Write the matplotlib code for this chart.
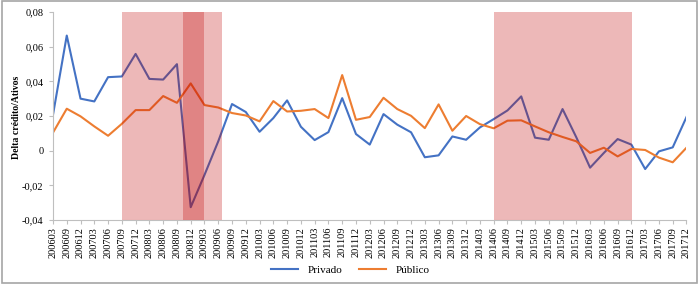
import matplotlib
matplotlib.use("Agg")
import matplotlib.pyplot as plt
from matplotlib.patches import Rectangle

labels = ["200603", "200609", "200612", "200703", "200706", "200709", "200712",
          "200803", "200806", "200809", "200812", "200903", "200906", "200909",
          "200912", "201003", "201006", "201009", "201012", "201103", "201106",
          "201109", "201112", "201203", "201206", "201209", "201212", "201303",
          "201306", "201309", "201312", "201403", "201406", "201409", "201412",
          "201503", "201506", "201509", "201512", "201603", "201606", "201609",
          "201612", "201703", "201706", "201709", "201712"]

privado = [0.0207, 0.0664, 0.0300, 0.0284, 0.0424, 0.0428, 0.0558, 0.0414,
           0.0410, 0.0499, -0.0326, -0.0140, 0.0054, 0.0269, 0.0223, 0.0109,
           0.0188, 0.0290, 0.0138, 0.0061, 0.0107, 0.0303, 0.0096, 0.0035,
           0.0211, 0.0150, 0.0106, -0.0038, -0.0027, 0.0082, 0.0063, 0.0134,
           0.0182, 0.0232, 0.0313, 0.0075, 0.0063, 0.0240, 0.0077, -0.0098,
           -0.0013, 0.0067, 0.0035, -0.0106, -0.0004, 0.0019, 0.0194]

publico = [0.0104, 0.0242, 0.0198, 0.0140, 0.0086, 0.0155, 0.0234, 0.0234,
           0.0315, 0.0276, 0.0388, 0.0263, 0.0249, 0.0217, 0.0203, 0.0169,
           0.0286, 0.0226, 0.0230, 0.0240, 0.0188, 0.0436, 0.0178, 0.0194,
           0.0305, 0.0240, 0.0201, 0.0130, 0.0267, 0.0115, 0.0200, 0.0153,
           0.0129, 0.0173, 0.0175, 0.0140, 0.0106, 0.0079, 0.0054, -0.0013,
           0.0017, -0.0033, 0.0010, 0.0004, -0.0040, -0.0067, 0.0017]

# shaded periods (in category index units)
spans = [(5.0, 12.27), (9.45, 10.95), (32.0, 42.05)]

yticks = [-0.04, -0.02, 0, 0.02, 0.04, 0.06, 0.08]
ytick_labels = ["-0,04", "-0,02", "0", "0,02", "0,04", "0,06", "0,08"]

plt.rcParams['font.family'] = ['Liberation Serif', 'DejaVu Serif']

fig = plt.figure(figsize=(7.0, 2.85), dpi=100)
ax = fig.add_axes([0.0757, 0.228, 0.905, 0.730])

x = list(range(len(labels)))
ax.plot(x, privado, color="#4472C4", lw=1.5, label="Privado", zorder=2)
ax.plot(x, publico, color="#ED7D31", lw=1.5, label="Público", zorder=2)

for a, b in spans:
    ax.axvspan(a, b, color=(192/255, 0, 0), alpha=0.28, lw=0, zorder=3)

ax.set_xlim(0, len(labels) - 1)
ax.set_ylim(-0.04, 0.08)
ax.set_yticks(yticks)
ax.set_yticklabels(ytick_labels, fontsize=7.5)
ax.set_xticks(x)
ax.set_xticklabels(labels, rotation=90, fontsize=7.5)
ax.tick_params(axis='x', length=3, color="#BFBFBF", pad=2)
ax.tick_params(axis='y', length=3, color="#BFBFBF", pad=4)

for s in ["top", "right"]:
    ax.spines[s].set_visible(False)
for s in ["left", "bottom"]:
    ax.spines[s].set_color("#BFBFBF")
    ax.spines[s].set_linewidth(0.8)

fig.text(17 / 700, 1 - 117 / 285, "Delta crédito/Ativos", rotation=90,
         fontsize=7, fontweight="bold", ha="center", va="center")

fig.legend(loc="lower center", bbox_to_anchor=(0.5, 0.0), ncol=2, frameon=False,
           fontsize=8, handlelength=2.5, columnspacing=1.5)

fig.patches.append(Rectangle((0.003, 0.006), 0.993, 0.99, transform=fig.transFigure,
                             fill=False, edgecolor="#A6A6A6", lw=1.2))

fig.savefig("out.png", dpi=100)
